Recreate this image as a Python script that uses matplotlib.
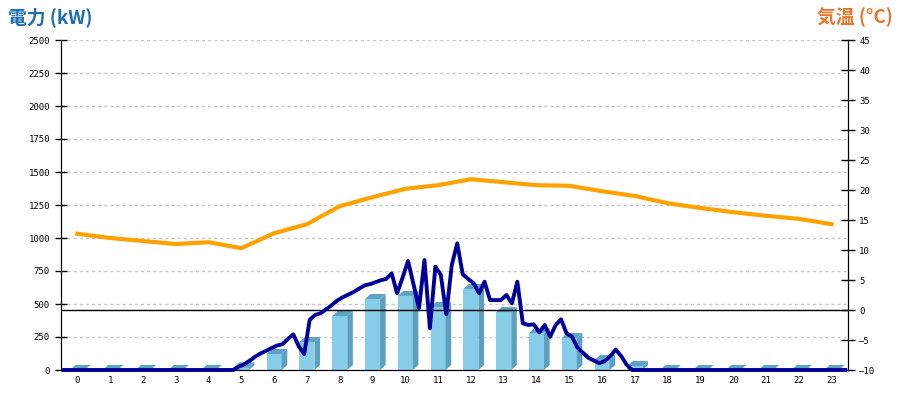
import matplotlib
matplotlib.use("Agg")
import matplotlib.pyplot as plt
from matplotlib.patches import Polygon, Rectangle
import numpy as np

# ---- data ----
hours = list(range(24))
hour_labels = [str(h) for h in hours]
# hourly energy (kW) bars
bar_kw = [0, 0, 0, 0, 0, 20, 121, 212, 409, 538, 561, 477,
          614, 439, 280, 242, 76, 30, 0, 0, 0, 0, 0, 0]
# hourly temperature (deg C)
temp_c = [12.7, 12.0, 11.5, 11.0, 11.3, 10.3, 12.8, 14.3, 17.3, 18.8, 20.2, 20.8,
          21.8, 21.3, 20.8, 20.7, 19.8, 19.0, 17.8, 17.0, 16.3, 15.7, 15.2, 14.3]
# 10-minute power readings (kW), 144 values for the day
power_kw = ([0] * 31 +
            [0, 25, 43, 70, 100, 125, 145, 165, 185, 195,
             235, 270, 180, 120, 380, 417, 430, 460, 490, 525,
             550, 570, 590, 615, 640, 650, 664, 680, 690, 732,
             581, 700, 826, 650, 467, 833, 316, 783, 720, 422,
             795, 960, 725, 690, 657, 581, 669, 530, 530, 530,
             568, 505, 669, 354, 341, 346, 285, 341, 252, 340,
             384, 278, 252, 169, 130, 92, 72, 52, 68, 105,
             155, 105, 40] +
            [0] * 40)

# ---- figure ----
fig = plt.figure(figsize=(9, 4), dpi=100)
ax = fig.add_axes([61/900, 30/400, 787/900, 330/400])
ax2 = ax.twinx()

ax.set_xlim(0, 24)
ax.set_ylim(0, 2500)
ax2.set_ylim(-10, 45)

# grid
ax.set_yticks(np.arange(0, 2501, 250))
ax.yaxis.grid(True, color='#c8c8c8', linestyle=(0, (2.2, 2.2)), linewidth=1)
ax.set_axisbelow(True)

# 3D bars
w = 0.46
dx = 0.17
dy = 38
front_c = '#87cde9'
side_c = '#5ba1bf'
top_c = '#5ea4c2'
for h, v in zip(hours, bar_kw):
    c = h + 0.5
    l, r = c - w/2, c + w/2
    if v > 0:
        ax.add_patch(Rectangle((l, 0), w, v, facecolor=front_c, edgecolor='none', zorder=2))
        ax.add_patch(Polygon([(r, 0), (r + dx, dy), (r + dx, v + dy), (r, v)],
                             closed=True, facecolor=side_c, edgecolor='none', zorder=2))
    ax.add_patch(Polygon([(l, v), (l + dx, v + dy), (r + dx, v + dy), (r, v)],
                         closed=True, facecolor=top_c, edgecolor='none', zorder=2))

# temperature line and zero line on right axis
ax2.axhline(0, color='black', linewidth=1, zorder=2)
ax2.plot([h + 0.5 for h in hours], temp_c, color='#ffa200', linewidth=3, zorder=3,
         solid_joinstyle='round')

# power line (left axis scale)
t = [(k + 0.5) / 6 for k in range(len(power_kw))]
ax2.plot(t, power_kw, color='#000099', linewidth=2.8, zorder=4,
         transform=ax.transData, clip_on=False, solid_joinstyle='round')
ax2.set_ylim(-10, 45)

# axes styling
for a in (ax, ax2):
    a.spines['top'].set_visible(False)
    a.spines['left'].set_color('black')
    a.spines['right'].set_color('black')
    a.spines['bottom'].set_color('black')
ax.set_xticks([h + 0.5 for h in hours])
ax.set_xticklabels(hour_labels)
ax.tick_params(axis='x', length=0, pad=4, labelsize=6.5)
ax.tick_params(axis='y', direction='inout', length=8, width=1, pad=4, labelsize=6.5)
ax2.set_yticks(np.arange(-10, 46, 5))
ax2.tick_params(axis='y', direction='inout', length=10, width=1, pad=3, labelsize=6.5)
for lab in ax.get_xticklabels() + ax.get_yticklabels() + ax2.get_yticklabels():
    lab.set_family('DejaVu Sans Mono')

# titles
fig.text(8/900, 1 - 17/400, '電力 (kW)', color='#1f6db5', fontsize=13.5, fontweight='bold',
         family=['Noto Sans CJK JP', 'DejaVu Sans'], ha='left', va='center')
fig.text(893/900, 1 - 17/400, '気温 (°C)', color='#e8762c', fontsize=13.5, fontweight='bold',
         family=['Noto Sans CJK JP', 'DejaVu Sans'], ha='right', va='center')

fig.savefig('out.png', dpi=100)
